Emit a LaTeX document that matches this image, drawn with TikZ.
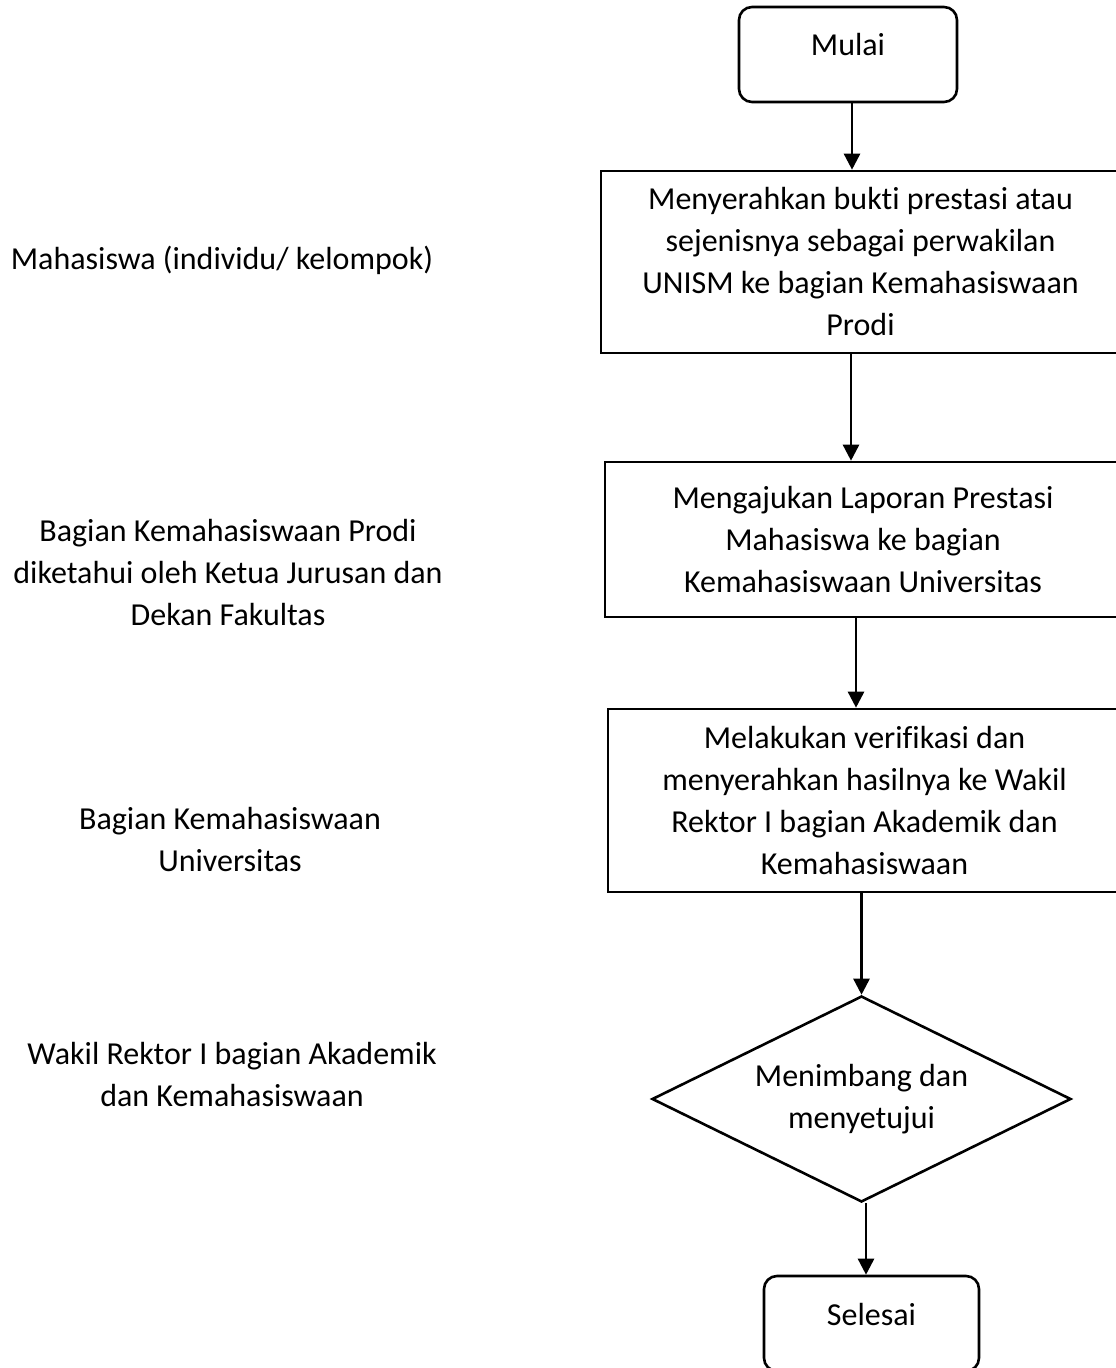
\documentclass[tikz,border=0pt]{standalone}
\usepackage{fontspec}
\setmainfont{Carlito}[Ligatures={NoCommon}]
\usetikzlibrary{shapes.geometric,arrows.meta}
\begin{document}
\begin{tikzpicture}[x=0.5pt,y=-0.5pt,
  every node/.style={font=\fontsize{16}{21}\selectfont},
  proc/.style={draw, line width=1.3pt, align=center, inner sep=0pt},
  term/.style={draw, line width=1.3pt, rounded corners=6.5pt, inner sep=0pt},
  decision/.style={draw, diamond, line width=1.3pt, align=center, inner sep=0pt, aspect=2},
  lbl/.style={align=center, inner sep=0pt},
  arr/.style={line width=1.3pt, -{Triangle[length=8pt,width=8pt]}}]
\path[use as bounding box] (0,0) rectangle (1115,1368);

% flow boxes
\node[term, minimum width=109pt, minimum height=47.5pt] (mulai) at (848,54.5) {};
\node[lbl] (mulaiT) at (848,45) {Mulai};

\node[proc, minimum width=259.5pt, minimum height=91pt] (b2) at (860.5,262)
  {Menyerahkan bukti prestasi atau\\sejenisnya sebagai perwakilan\\UNISM ke bagian Kemahasiswaan\\Prodi};

\node[proc, minimum width=258pt, minimum height=77.5pt] (b3) at (863,539.5)
  {Mengajukan Laporan Prestasi\\Mahasiswa ke bagian\\Kemahasiswaan Universitas};

\node[proc, minimum width=256.5pt, minimum height=91.5pt] (b4) at (864.5,800.5)
  {Melakukan verifikasi dan\\menyerahkan hasilnya ke Wakil\\Rektor I bagian Akademik dan\\Kemahasiswaan};

\node[decision, minimum width=209.5pt, minimum height=103pt] (d) at (861.5,1099)
  {Menimbang dan\\menyetujui};

\node[term, minimum width=107.5pt, minimum height=47.5pt] (selesai) at (871.5,1323.5) {};
\node[lbl] (selesaiT) at (871.5,1314) {Selesai};

% connectors (vertical drops)
\coordinate (c1) at ([xshift=2pt]mulai.south);
\coordinate (c2) at ([xshift=-4.75pt]b2.south);
\coordinate (c3) at ([xshift=-3.5pt]b3.south);
\coordinate (c5) at ([xshift=2.25pt]d.south);
\draw[arr] (c1) -- (c1 |- b2.north);
\draw[arr] (c2) -- (c2 |- b3.north);
\draw[arr] (c3) -- (c3 |- b4.north);
\draw[arr] (b4.south -| d.north) -- (d.north);
\draw[arr] (c5) -- (c5 |- selesai.north);

% actors
\node[lbl] (l1) at (222,260) {Mahasiswa (individu/ kelompok)};
\node[lbl] (l2) at (228,573) {Bagian Kemahasiswaan Prodi\\diketahui oleh Ketua Jurusan dan\\Dekan Fakultas};
\node[lbl] (l3) at (230,840) {Bagian Kemahasiswaan\\Universitas};
\node[lbl] (l4) at (232,1074) {Wakil Rektor I bagian Akademik\\dan Kemahasiswaan};
\end{tikzpicture}
\end{document}
